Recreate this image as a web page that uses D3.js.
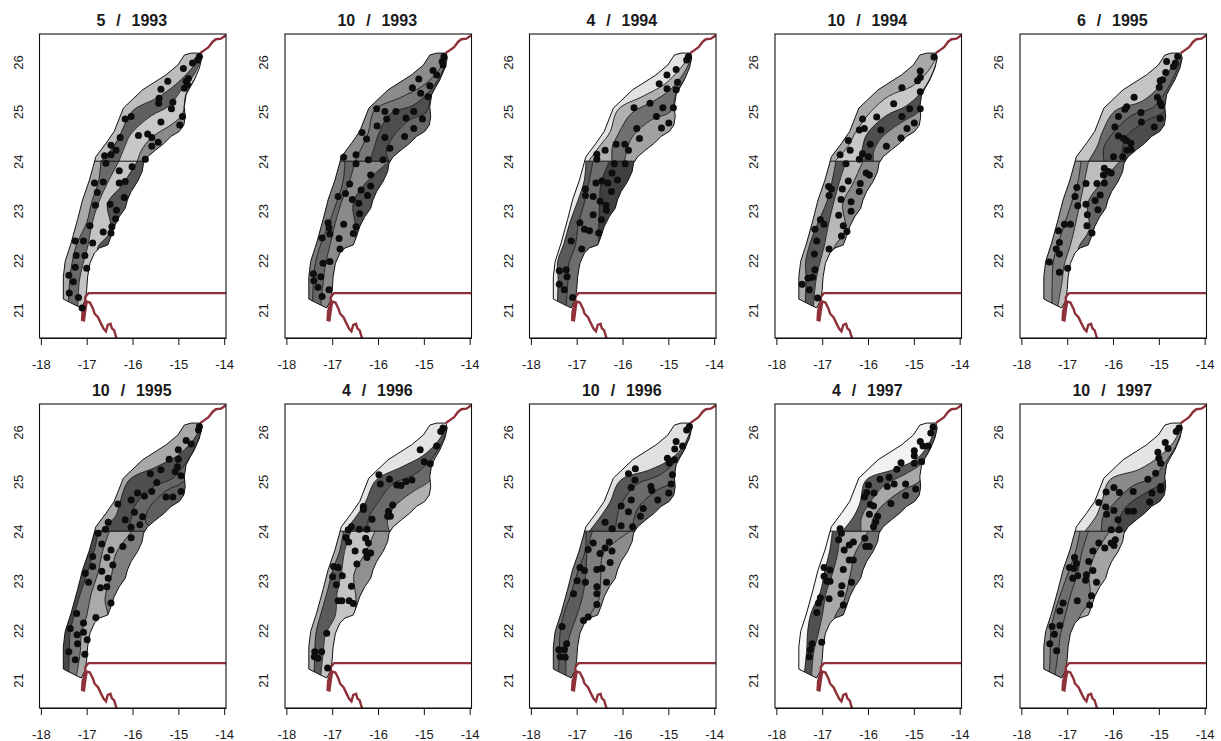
<!DOCTYPE html>
<html>
<head>
<meta charset="utf-8">
<script src="https://cdn.jsdelivr.net/npm/d3@7"></script>
<style>
  html, body { margin: 0; padding: 0; background: #fff; }
  svg { display: block; }
  text { font-family: "Liberation Sans", Arial, sans-serif; fill: #1a1a1a; }
  .title { font-size: 16px; font-weight: bold; white-space: pre; text-anchor: middle; word-spacing: 1px; }
  .tick text { font-size: 13px; }
  .tick line, .domain { stroke: #111; }
</style>
</head>
<body>
<svg id="chart" width="1221" height="741"></svg>
<script>
// ── Panel labels ──────────────────────────────────────────
const months = [5, 10, 4, 10, 6, 10, 4, 10, 4, 10];
const years = [1993, 1993, 1994, 1994, 1995, 1995, 1996, 1996, 1997, 1997];
const xTicks = [-18, -17, -16, -15, -14];
const yTicks = [21, 22, 23, 24, 25, 26];

// ── Survey strip outline (lon, lat) ───────────────────────
const stripOutline = [
  [-14.87,26.14],[-14.72,26.18],[-14.52,26.18],[-14.49,26.08],[-14.54,25.88],[-14.65,25.64],[-14.75,25.48],
  [-14.83,25.34],[-14.87,25.10],[-14.85,24.90],[-14.88,24.73],[-14.98,24.60],[-15.16,24.50],[-15.31,24.36],
  [-15.49,24.23],[-15.67,24.09],[-15.76,23.96],[-15.79,23.79],[-15.89,23.59],[-16.03,23.39],[-16.11,23.22],
  [-16.16,23.05],[-16.29,22.88],[-16.40,22.68],[-16.47,22.48],[-16.54,22.31],[-16.72,22.25],[-16.83,22.15],
  [-16.93,21.94],[-16.98,21.67],[-17.00,21.41],[-17.03,21.20],[-17.12,21.04],[-17.34,21.14],[-17.51,21.22],
  [-17.51,21.67],[-17.47,21.98],[-17.34,22.35],[-17.20,22.82],[-17.09,23.22],[-16.94,23.62],[-16.80,24.09],
  [-16.58,24.36],[-16.40,24.60],[-16.20,25.07],[-15.78,25.44],[-15.27,25.74],[-15.01,25.94]
];
const splitLine = [[-16.83,24],[-15.74,24]];

// ── Coastline (lon, lat) ──────────────────────────────────
const coastNorth = [[-14.52,26.18],[-14.43,26.24],[-14.34,26.30],[-14.25,26.41],[-14.18,26.46],[-14.07,26.47],[-13.9,26.58]];
const coastSouth = [
  [-13.9,21.34],[-16.96,21.34],[-17.03,21.26],[-17.03,21.17],[-17.09,20.97],[-17.10,20.80],[-17.06,20.79],
  [-17.03,21.00],[-17.00,21.17],[-16.93,21.15],[-16.86,21.02],[-16.83,20.93],[-16.75,20.85],[-16.70,20.75],
  [-16.63,20.62],[-16.58,20.57],[-16.54,20.70],[-16.48,20.72],[-16.45,20.63],[-16.40,20.59],[-16.36,20.46],[-16.33,20.38]
];

// ── Cross-sections the contours are read along ────────────
const southOff = [[-17.51,21.14],[-17.51,21.67],[-17.47,21.98],[-17.34,22.35],[-17.20,22.82],[-17.09,23.22],[-16.94,23.62],[-16.83,24]];
const southIn  = [[-17.12,20.97],[-16.98,21.54],[-16.93,21.88],[-16.72,22.25],[-16.40,22.58],[-16.11,23.09],[-15.89,23.49],[-15.74,24]];
const northOff = [[-16.83,24],[-16.58,24.36],[-16.40,24.60],[-16.20,25.07],[-15.78,25.44],[-15.27,25.74],[-14.87,26.14],[-14.72,26.24]];
const northIn  = [[-15.74,24],[-15.49,24.13],[-15.16,24.40],[-14.88,24.73],[-14.85,24.93],[-14.82,25.34],[-14.62,25.67],[-14.46,26.08]];

// ── Band shades, offshore to inshore ──────────────────────
const northShades = [
  ['#bdbdbd','#606060','#c8c8c8','#8a8a8a'],
  ['#8c8c8c','#787878','#4e4e4e','#686868'],
  ['#e2e2e2','#b0b0b0','#707070','#a2a2a2'],
  ['#a8a8a8','#c8c8c8','#4f4f4f','#989898'],
  ['#c4c4c4','#6a6a6a','#595959','#4c4c4c'],
  ['#a8a8a8','#4f4f4f','#666666','#5e5e5e'],
  ['#e4e4e4','#555555','#6a6a6a','#b0b0b0'],
  ['#e0e0e0','#585858','#6c6c6c','#5e5e5e'],
  ['#f2f2f2','#5a5a5a','#a8a8a8','#6a6a6a'],
  ['#e4e4e4','#8a8a8a','#666666','#484848']
];
const southShades = [
  ['#a8a8a8','#6a6a6a','#c4c4c4','#555555'],
  ['#7a7a7a','#666666','#8a8a8a','#505050'],
  ['#e8e8e8','#5a5a5a','#6e6e6e','#3f3f3f'],
  ['#a8a8a8','#555555','#b8b8b8','#888888'],
  ['#909090','#7a7a7a','#bdbdbd','#666666'],
  ['#484848','#777777','#aaaaaa','#7e7e7e'],
  ['#aaaaaa','#5a5a5a','#c4c4c4','#909090'],
  ['#707070','#5c5c5c','#7e7e7e','#8c8c8c'],
  ['#f4f4f4','#505050','#a8a8a8','#707070'],
  ['#8e8e8e','#6e6e6e','#7c7c7c','#a4a4a4']
];

// ── Contour cuts, as share of each cross-section ──────────
const northCuts = [
  [[.13,.17,.12,.155,.33,.48,.6,.8],[.49,.37,.29,.46,.63,.75,.85,.9],[.86,.7,.65,.845,.94,.97,.98,1.3]],
  [[.3,.22,.15,.1,.3,.55,.7,.85],[.6,.45,.33,.35,.6,.85,.9,.95],[.98,.7,.58,.68,.9,.98,1.3,1.3]],
  [[.08,.1,.1,.08,.25,.45,.55,.75],[.55,.33,.25,.3,.47,.72,.8,.9],[.8,.62,.5,.65,.88,.97,.98,1.3]],
  [[.1,.15,.1,.2,.25,.55,.7,.85],[.6,.42,.3,.45,.65,.92,.95,.97],[.87,.65,.57,.75,.92,1.3,1.3,1.3]],
  [[.27,.22,.13,.18,.45,.6,.55,.75],[.58,.35,.3,.45,.7,.9,.85,.9],[.97,.72,.55,.72,.92,1.3,1.3,1.3]],
  [[.12,.2,.1,.1,.3,.55,.7,.85],[.7,.5,.37,.5,.72,.95,.95,.97],[1.3,.8,.62,.72,.92,1.3,1.3,1.3]],
  [[.1,.12,.1,.12,.3,.55,.7,.85],[.55,.35,.3,.38,.6,.85,.9,.95],[.99,.72,.6,.75,.92,1.3,1.3,1.3]],
  [[.1,.12,.1,.12,.4,.72,.85,.9],[.62,.42,.3,.38,.62,.9,.95,.97],[.95,.75,.6,.72,.92,1.3,1.3,1.3]],
  [[.25,.25,.18,.12,.38,.72,.8,.75],[.62,.4,.33,.42,.6,.95,.95,.95],[.85,.62,.55,.72,.92,1.3,1.3,1.3]],
  [[.2,.2,.12,.1,.38,.6,.75,.8],[.53,.33,.32,.47,.7,.9,.93,.95],[.87,.65,.55,.75,.93,1.3,1.3,1.3]]
];
const southCuts = [
  [[.28,.27,.28,.2,.25,.21,.19,.13],[.81,.66,.71,.59,.39,.36,.38,.49],[1.3,1.3,1.3,.94,.91,.56,.69,.86]],
  [[.2,.2,.2,.15,.18,.2,.17,.1],[.65,.6,.6,.47,.33,.3,.3,.3],[1.3,1.3,1.3,1.3,.9,.56,.62,.99]],
  [[.22,.2,.1,.1,.08,.12,.1,.03],[.7,.6,.55,.5,.3,.27,.2,.17],[1.3,1.3,1.3,1.3,.85,.6,.45,.5]],
  [[.35,.3,.2,.12,.15,.2,.15,.12],[.8,.7,.75,.62,.42,.35,.3,.32],[1.3,1.3,1.3,.97,.88,.55,.58,.66]],
  [[.45,.35,.3,.22,.2,.2,.17,.12],[.75,.75,.75,.65,.47,.38,.3,.27],[1.3,1.3,1.3,.95,.85,.55,.63,.9]],
  [[.3,.25,.2,.12,.1,.12,.1,.08],[.7,.7,.65,.55,.37,.35,.27,.3],[1.3,1.3,1.3,1.3,.75,.65,.55,.75]],
  [[.3,.25,.22,.15,.12,.1,.1,.07],[.65,.6,.6,.65,.38,.3,.2,.22],[1.3,1.3,1.3,1.3,.9,.58,.62,.7]],
  [[.28,.25,.2,.1,.12,.12,.12,.03],[.7,.55,.6,.55,.42,.3,.16,.16],[1.3,1.3,1.3,.98,.85,.63,.5,.92]],
  [[.3,.33,.28,.15,.2,.15,.1,.05],[.7,.62,.7,.55,.35,.33,.27,.2],[1.3,1.3,1.3,.98,.85,.72,.62,.77]],
  [[.3,.27,.2,.1,.1,.13,.12,.1],[.6,.6,.6,.48,.35,.33,.25,.27],[1.3,1.3,1.3,.97,.87,.58,.53,.7]]
];

// ── Sampling stations per survey (lon, lat) ───────────────
const dots1993a = [[-14.89,25.87],[-14.69,25.98],[-14.54,26.11],[-14.58,26.04],[-14.78,25.67],[-14.83,25.61],[-14.80,25.54],[-14.87,25.47],[-15.23,25.61],[-15.38,25.45],[-15.42,25.27],[-15.43,25.17],[-15.12,25.19],[-15.15,25.06],[-16.03,24.90],[-16.16,24.85],[-14.91,24.90],[-14.97,24.73],[-15.38,24.79],[-15.87,24.52],[-15.67,24.55],[-15.58,24.48],[-15.44,24.38],[-15.58,24.30],[-16.27,24.48],[-16.47,24.32],[-16.36,24.22],[-16.61,24.11],[-16.47,24.13],[-16.58,23.96],[-15.72,24.04],[-16.29,23.81],[-16.01,23.89],[-16.83,23.56],[-16.64,23.58],[-16.77,23.37],[-16.29,23.56],[-16.16,23.59],[-16.18,23.27],[-16.81,23.11],[-16.49,23.13],[-16.35,23.01],[-16.37,22.84],[-16.45,22.68],[-16.93,22.70],[-16.64,22.57],[-16.47,22.55],[-17.25,22.39],[-17.07,22.39],[-16.87,22.35],[-17.23,22.10],[-17.04,22.10],[-17.25,21.86],[-17.00,21.84],[-17.39,21.70],[-17.29,21.57],[-17.38,21.34],[-17.18,21.25],[-17.10,21.04]];
const dots1993b = [[-15.11,25.66],[-15.25,25.48],[-15.07,25.37],[-14.56,26.11],[-14.60,26.01],[-14.58,25.94],[-14.80,25.83],[-14.72,25.74],[-14.87,25.52],[-14.91,25.30],[-16.03,25.06],[-15.85,25.00],[-15.61,25.00],[-15.81,24.85],[-15.22,25.00],[-15.39,24.87],[-15.03,24.85],[-15.22,24.66],[-16.02,24.71],[-15.85,24.48],[-15.42,24.50],[-16.35,24.58],[-16.25,24.45],[-15.74,24.26],[-16.48,24.13],[-16.75,24.08],[-16.48,23.95],[-16.21,24.03],[-15.89,24.03],[-16.16,23.72],[-16.62,23.54],[-16.16,23.50],[-16.37,23.42],[-16.71,23.35],[-16.87,23.29],[-16.23,23.31],[-16.56,23.23],[-16.42,23.15],[-16.40,22.94],[-17.09,22.76],[-17.07,22.66],[-16.75,22.73],[-16.48,22.68],[-16.54,22.54],[-17.22,22.45],[-17.05,22.53],[-16.85,22.44],[-16.83,22.23],[-17.05,21.98],[-17.20,21.94],[-17.41,21.73],[-17.40,21.59],[-17.25,21.67],[-17.31,21.46],[-17.22,21.27],[-17.07,21.41]];
const dots1994a = [[-14.56,26.11],[-14.60,26.04],[-14.83,25.85],[-15.03,25.74],[-15.20,25.56],[-15.03,25.46],[-14.80,25.59],[-14.83,25.44],[-15.40,25.17],[-15.12,25.08],[-14.89,25.08],[-15.75,25.08],[-15.26,24.90],[-14.99,24.77],[-15.15,24.67],[-15.69,24.66],[-15.63,24.46],[-16.14,24.34],[-15.95,24.34],[-16.38,24.22],[-15.87,24.22],[-16.56,24.14],[-16.56,24.04],[-16.18,23.95],[-15.94,23.95],[-16.23,23.76],[-16.11,23.62],[-16.45,23.60],[-16.58,23.56],[-16.32,23.56],[-16.81,23.44],[-16.81,23.31],[-16.64,23.29],[-16.24,23.39],[-16.49,23.19],[-16.36,23.11],[-16.35,23.01],[-16.64,22.92],[-16.46,22.82],[-16.93,22.76],[-16.83,22.63],[-16.72,22.60],[-16.52,22.55],[-17.12,22.39],[-16.89,22.23],[-17.38,21.79],[-17.23,21.81],[-17.21,21.67],[-17.38,21.52],[-17.27,21.41],[-17.09,21.25]];
const dots1994b = [[-14.56,26.10],[-14.86,25.82],[-14.92,25.62],[-14.86,25.69],[-14.86,25.40],[-15.26,25.48],[-15.44,25.16],[-14.86,25.06],[-15.09,25.06],[-15.81,24.89],[-16.12,24.85],[-15.26,24.90],[-14.99,24.77],[-15.15,24.66],[-16.19,24.63],[-16.08,24.66],[-15.72,24.63],[-15.28,24.47],[-16.43,24.42],[-16.39,24.22],[-15.95,24.34],[-15.60,24.30],[-16.61,24.13],[-16.12,24.15],[-16.19,24.04],[-15.99,24.09],[-16.48,23.95],[-16.04,23.76],[-15.97,23.72],[-16.43,23.60],[-16.17,23.55],[-16.86,23.49],[-16.80,23.44],[-16.56,23.44],[-16.19,23.39],[-16.85,23.31],[-16.59,23.23],[-16.37,23.18],[-16.37,22.99],[-16.64,22.91],[-17.04,22.82],[-16.96,22.73],[-16.54,22.70],[-17.16,22.63],[-16.46,22.58],[-16.58,22.49],[-17.12,22.39],[-16.85,22.23],[-17.17,22.13],[-17.16,21.81],[-17.31,21.64],[-17.21,21.66],[-17.44,21.52],[-17.28,21.41],[-17.10,21.24]];
const dots1995a = [[-14.83,26.01],[-14.59,26.11],[-14.64,25.98],[-14.68,25.91],[-14.85,25.79],[-14.92,25.64],[-14.97,25.62],[-14.99,25.49],[-15.03,25.29],[-14.97,25.18],[-14.94,25.12],[-15.54,25.29],[-15.70,25.10],[-15.74,25.05],[-15.88,24.90],[-15.39,24.98],[-15.38,24.79],[-15.10,24.69],[-14.97,24.86],[-15.96,24.69],[-15.88,24.51],[-15.77,24.46],[-15.71,24.42],[-15.61,24.36],[-15.61,24.24],[-15.70,24.22],[-15.79,24.09],[-15.99,24.09],[-16.19,23.86],[-16.10,23.79],[-16.21,23.72],[-16.04,23.76],[-16.35,23.55],[-16.19,23.56],[-16.59,23.55],[-16.79,23.47],[-16.83,23.29],[-16.28,23.32],[-16.77,23.10],[-16.39,23.21],[-16.59,23.13],[-16.56,22.92],[-16.33,23.02],[-16.57,22.70],[-16.46,22.55],[-17.19,22.60],[-17.06,22.73],[-16.93,22.73],[-17.17,22.36],[-17.24,22.23],[-17.17,22.13],[-17.39,21.97],[-17.17,21.76],[-16.99,21.84]];
const dots1995b = [[-14.54,26.11],[-14.56,26.04],[-14.83,25.83],[-14.72,25.76],[-15.00,25.64],[-15.20,25.45],[-15.00,25.45],[-15.02,25.30],[-15.07,25.20],[-15.38,25.24],[-15.61,25.16],[-15.47,24.98],[-14.94,25.12],[-14.94,24.80],[-15.89,24.77],[-15.74,24.71],[-15.58,24.80],[-15.27,24.69],[-15.12,24.69],[-16.03,24.63],[-16.32,24.55],[-15.96,24.38],[-16.16,24.23],[-15.78,24.29],[-15.84,24.13],[-16.03,24.08],[-16.53,24.18],[-16.59,24.04],[-16.75,23.96],[-16.03,23.87],[-16.67,23.74],[-16.21,23.69],[-16.47,23.62],[-16.87,23.49],[-16.56,23.47],[-16.87,23.29],[-16.43,23.32],[-17.03,23.15],[-16.67,23.19],[-16.53,23.05],[-16.96,22.97],[-16.70,22.86],[-16.56,22.88],[-16.47,22.55],[-17.22,22.34],[-16.80,22.26],[-17.36,22.04],[-17.07,22.15],[-17.07,21.96],[-17.21,21.91],[-16.99,21.81],[-17.20,21.73],[-17.39,21.57],[-17.04,21.52],[-17.25,21.41]];
const dots1996a = [[-14.58,26.08],[-14.63,26.01],[-14.72,25.72],[-15.08,25.64],[-14.99,25.40],[-14.86,25.36],[-15.98,25.14],[-15.95,24.95],[-15.75,25.05],[-15.59,24.93],[-15.50,24.92],[-15.39,25.00],[-15.26,25.03],[-15.68,24.53],[-16.32,24.50],[-16.32,24.44],[-15.77,24.40],[-15.79,24.30],[-15.73,24.30],[-16.13,24.24],[-16.58,24.09],[-16.65,24.03],[-16.41,24.04],[-16.24,24.04],[-16.70,23.87],[-16.64,23.78],[-16.27,23.86],[-16.21,23.76],[-16.50,23.60],[-16.27,23.59],[-16.16,23.56],[-16.24,23.47],[-16.46,23.34],[-16.97,23.29],[-16.87,23.27],[-16.99,23.08],[-16.78,23.10],[-16.91,22.92],[-16.58,22.89],[-16.87,22.60],[-16.79,22.60],[-16.63,22.60],[-16.54,22.54],[-17.12,21.94],[-17.38,21.57],[-17.23,21.57],[-17.39,21.47],[-17.31,21.44],[-17.10,21.24]];
const dots1996b = [[-14.54,26.11],[-14.60,26.04],[-14.83,25.81],[-14.86,25.66],[-14.69,25.72],[-15.02,25.47],[-14.98,25.37],[-14.87,25.44],[-15.87,25.16],[-15.72,25.26],[-15.73,25.03],[-14.91,25.14],[-14.94,24.95],[-15.38,24.90],[-15.36,24.82],[-14.99,24.77],[-15.23,24.63],[-15.81,24.88],[-15.81,24.63],[-16.03,24.51],[-15.87,24.39],[-15.55,24.46],[-15.61,24.30],[-16.38,24.18],[-16.03,24.11],[-16.23,24.05],[-15.78,24.09],[-16.64,23.76],[-16.29,23.78],[-16.75,23.63],[-16.38,23.66],[-16.23,23.60],[-16.49,23.55],[-16.27,23.37],[-16.93,23.27],[-16.83,23.21],[-16.45,23.25],[-16.56,23.23],[-16.99,23.00],[-16.81,22.97],[-16.35,22.97],[-16.56,22.88],[-16.56,22.74],[-17.07,22.74],[-16.56,22.52],[-16.75,22.27],[-16.85,22.20],[-17.32,22.08],[-17.22,21.73],[-17.39,21.61],[-17.27,21.61],[-17.36,21.47],[-17.25,21.46]];
const dots1997a = [[-14.58,26.10],[-14.63,25.98],[-14.86,25.81],[-14.80,25.72],[-14.69,25.72],[-14.99,25.62],[-14.99,25.52],[-14.99,25.37],[-14.83,25.40],[-15.28,25.38],[-15.37,25.25],[-15.54,25.09],[-15.74,25.05],[-15.58,24.90],[-15.43,24.95],[-15.18,24.95],[-14.96,24.85],[-15.18,24.72],[-15.99,24.93],[-15.87,24.77],[-16.03,24.78],[-16.08,24.69],[-15.95,24.54],[-15.88,24.51],[-15.50,24.56],[-15.97,24.34],[-15.79,24.30],[-15.83,24.19],[-15.88,24.09],[-16.61,24.05],[-16.58,23.96],[-16.64,23.83],[-16.07,23.86],[-16.05,23.69],[-15.97,23.69],[-16.32,23.78],[-16.41,23.72],[-16.52,23.62],[-16.54,23.23],[-16.32,23.42],[-16.41,23.42],[-16.96,23.27],[-16.83,23.22],[-16.96,23.09],[-16.90,22.99],[-16.83,22.99],[-16.57,22.90],[-16.59,22.74],[-16.85,22.64],[-17.04,22.66],[-17.08,22.55],[-16.54,22.51],[-17.12,22.36],[-17.01,21.76],[-17.22,21.73],[-17.26,21.61],[-17.28,21.47],[-16.36,22.97]];
const dots1997b = [[-14.56,26.08],[-14.62,26.01],[-14.86,25.79],[-14.80,25.67],[-15.02,25.59],[-15.00,25.47],[-14.96,25.37],[-15.07,25.17],[-15.24,25.05],[-14.96,24.90],[-14.96,24.83],[-15.15,24.77],[-15.20,24.59],[-15.56,24.80],[-15.98,24.88],[-16.15,24.79],[-15.86,24.78],[-16.31,24.58],[-16.16,24.49],[-16.14,24.34],[-15.98,24.42],[-15.89,24.23],[-15.67,24.40],[-15.55,24.40],[-16.04,24.03],[-15.87,24.03],[-16.31,23.76],[-16.04,23.76],[-15.95,23.83],[-16.18,23.66],[-15.98,23.71],[-16.44,23.60],[-16.53,23.39],[-16.84,23.47],[-16.95,23.27],[-16.85,23.25],[-16.80,23.35],[-16.44,23.21],[-16.58,23.12],[-16.60,23.01],[-16.88,23.05],[-16.77,23.10],[-16.36,22.97],[-16.47,22.70],[-16.51,22.51],[-17.09,22.55],[-16.78,22.60],[-17.16,22.39],[-17.33,22.08],[-17.16,22.10],[-17.28,21.92],[-17.38,21.73],[-17.23,21.59]];
const panelDots = [dots1993a, dots1993b, dots1994a, dots1994b, dots1995a, dots1995b, dots1996a, dots1996b, dots1997a, dots1997b];

// ── Layout ────────────────────────────────────────────────
const colLeft = [39.5, 285, 529.5, 775, 1020];
const rowTop = [34, 404];
const panelW = 186.5;
const panelH = 304;

const svg = d3.select('#chart');
const x = d3.scaleLinear().domain([-18.03, -13.96]).range([0, panelW]);
const y = d3.scaleLinear().domain([20.435, 26.565]).range([panelH, 0]);

const straight = d3.line().x(d => x(d[0])).y(d => y(d[1]));
const smooth = d3.line().x(d => x(d[0])).y(d => y(d[1])).curve(d3.curveCatmullRom.alpha(0.5));

// Point on each cross-section at the given shares
function cutPath(off, ins, shares) {
  return shares.map((t, i) => [
    off[i][0] + (ins[i][0] - off[i][0]) * t,
    off[i][1] + (ins[i][1] - off[i][1]) * t
  ]);
}

// Bands between successive cuts, then the contour lines on top
function drawBands(g, off, ins, cuts, shades) {
  const n = off.length;
  const edges = [new Array(n).fill(-0.4), ...cuts, new Array(n).fill(1.4)];
  shades.forEach((shade, i) => {
    const a = smooth(cutPath(off, ins, edges[i]));
    const b = smooth(cutPath(off, ins, edges[i + 1]).reverse());
    g.append('path').attr('d', a + 'L' + b.slice(1) + 'Z').attr('fill', shade).attr('stroke', shade).attr('stroke-width', 0.3);
  });
  cuts.forEach(c => {
    g.append('path').attr('d', smooth(cutPath(off, ins, c)))
      .attr('fill', 'none').attr('stroke', '#1c1c1c').attr('stroke-width', 0.9);
  });
}

// ── Panels ────────────────────────────────────────────────
months.forEach((month, i) => {
  const col = i % 5;
  const row = Math.floor(i / 5);
  const g = svg.append('g').attr('transform', `translate(${colLeft[col]},${rowTop[row]})`);

  g.append('text').attr('class', 'title').attr('x', panelW / 2 - 1).attr('y', -8)
    .text(`${month}  /  ${years[i]}`);

  const clipId = 'strip-' + i;
  const boxId = 'box-' + i;
  const defs = g.append('defs');
  defs.append('clipPath').attr('id', clipId).append('path').attr('d', straight(stripOutline) + 'Z');
  defs.append('clipPath').attr('id', boxId).append('rect').attr('width', panelW).attr('height', panelH);

  const bands = g.append('g').attr('clip-path', `url(#${clipId})`);
  drawBands(bands, southOff, southIn, southCuts[i], southShades[i]);
  drawBands(bands, northOff, northIn, northCuts[i], northShades[i]);

  g.append('path').attr('d', straight(stripOutline) + 'Z')
    .attr('fill', 'none').attr('stroke', '#111').attr('stroke-width', 1);
  g.append('path').attr('d', straight(splitLine))
    .attr('fill', 'none').attr('stroke', '#111').attr('stroke-width', 1);

  const coast = g.append('g').attr('clip-path', `url(#${boxId})`);
  [coastNorth, coastSouth].forEach(line => {
    coast.append('path').attr('d', straight(line))
      .attr('fill', 'none').attr('stroke', '#8e3039').attr('stroke-width', 2.4);
  });

  g.selectAll('circle').data(panelDots[i]).enter().append('circle')
    .attr('cx', d => x(d[0])).attr('cy', d => y(d[1])).attr('r', 3.5).attr('fill', '#0d0d0d');

  g.append('rect').attr('width', panelW).attr('height', panelH)
    .attr('fill', 'none').attr('stroke', '#111').attr('stroke-width', 1.1);

  g.append('g').attr('transform', `translate(0,${panelH})`)
    .call(d3.axisBottom(x).tickValues(xTicks).tickFormat(String).tickSize(7).tickSizeOuter(0).tickPadding(15));

  const yAxis = g.append('g')
    .call(d3.axisLeft(y).tickValues(yTicks).tickFormat(String).tickSize(0));
  yAxis.select('.domain').remove();
  yAxis.selectAll('text')
    .attr('transform', 'rotate(-90)')
    .attr('x', 0).attr('y', -21.5).attr('dy', '0.35em')
    .style('text-anchor', 'middle');
});
</script>
</body>
</html>
